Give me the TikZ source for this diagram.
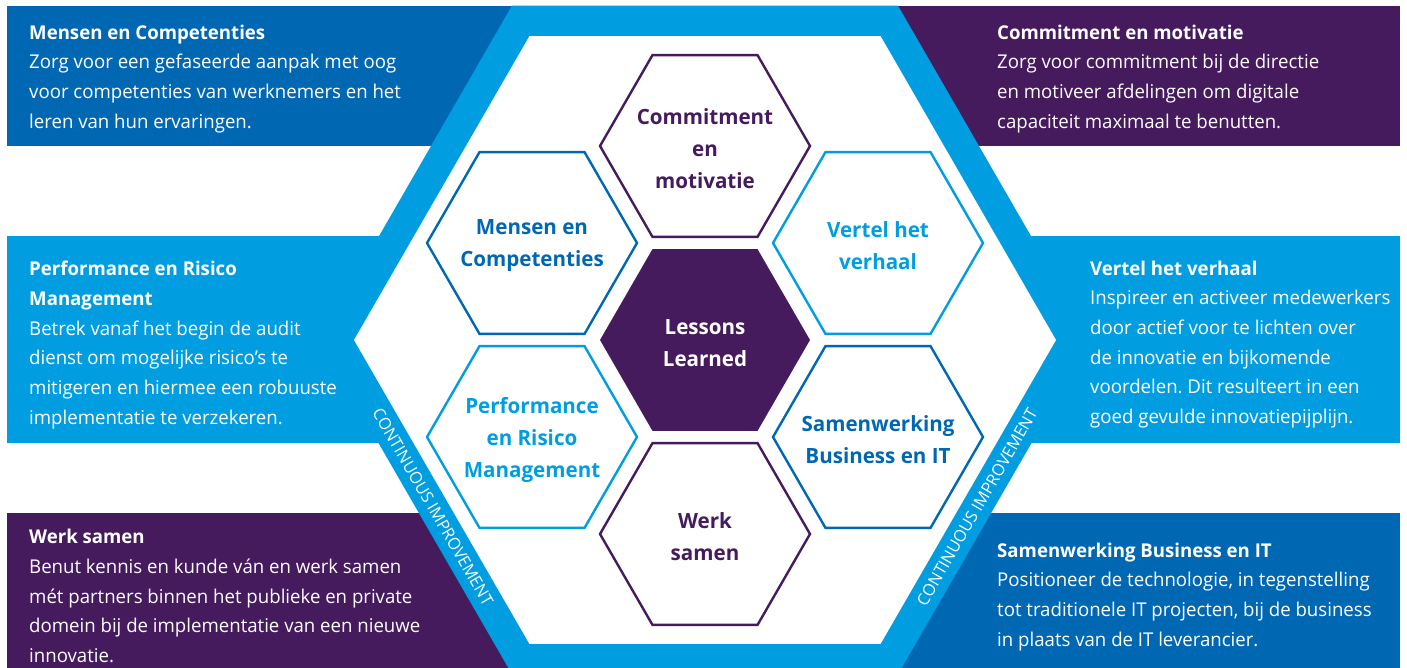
\documentclass[tikz,border=0pt]{standalone}
\usepackage{fontspec}
\setmainfont[FakeStretch=0.98]{Open Sans}
\usetikzlibrary{shapes.geometric}
\frenchspacing

\definecolor{rodblue}{RGB}{0,104,179}
\definecolor{rodlight}{RGB}{0,158,224}
\definecolor{rodpurple}{RGB}{70,27,94}

\newcommand\boxfont{\fontsize{19}{29.7}\selectfont}
\newcommand\hexfont{\fontsize{21}{32}\selectfont\bfseries}
\newcommand\cifont{\fontsize{16.5}{20}\selectfont}

\tikzset{
  hexa/.style={regular polygon, regular polygon sides=6, minimum size=210pt,
    inner sep=0pt, line width=2.4pt, fill=white},
  hexlabel/.style={align=center, inner sep=0pt, font=\hexfont, yshift=-3pt},
  bighexa/.style={regular polygon, regular polygon sides=6, inner sep=0pt},
  boxtext/.style={anchor=north west, align=left, inner sep=0pt, text=white, font=\boxfont},
  citext/.style={text=white, font=\cifont, inner sep=0pt}
}

\begin{document}
\begin{tikzpicture}[x=1pt, y=-1pt]
  \useasboundingbox (0,0) rectangle (1407,668);
  \clip (0,0) rectangle (1407,668);
  \fill[white] (0,0) rectangle (1407,668);

  % coloured bands behind the big hexagon
  \fill[rodblue] (7,6) rectangle (705,146);
  \fill[rodpurple] (705,6) rectangle (1400,146);
  \fill[rodlight] (7,236) rectangle (1400,443);
  \fill[rodpurple] (7,513) rectangle (705,668);
  \fill[rodblue] (705,513) rectangle (1400,668);

  % big hexagon
  \node[bighexa, fill=rodlight, minimum size=772pt] (outerhex) at (705,340) {};
  \node[bighexa, fill=white, minimum size=702pt] (innerhex) at (705,340) {};

  \node[citext, rotate=-60] (cileft) at (433,507) {CONTINUOUS IMPROVEMENT};
  \node[citext, rotate=60] (ciright) at (977,507) {CONTINUOUS IMPROVEMENT};

  % honeycomb
  \node[hexa, fill=rodpurple] (lessons) at (705,340) {};
  \node[hexa, draw=rodpurple] (commit) at (705,146) {};
  \node[hexa, draw=rodblue] (mensen) at (532,243) {};
  \node[hexa, draw=rodlight] (vertel) at (878,243) {};
  \node[hexa, draw=rodlight] (perf) at (532,437) {};
  \node[hexa, draw=rodblue] (samen) at (878,437) {};
  \node[hexa, draw=rodpurple] (werk) at (705,534) {};

  \node[hexlabel, text=white] (lessonslbl) at (lessons) {Lessons\\Learned};
  \node[hexlabel, text=rodpurple] (commitlbl) at (commit) {Commitment\\en\\motivatie};
  \node[hexlabel, text=rodblue] (mensenlbl) at (mensen) {Mensen en\\Competenties};
  \node[hexlabel, text=rodlight] (vertellbl) at (vertel) {Vertel het\\verhaal};
  \node[hexlabel, text=rodlight] (perflbl) at (perf) {Performance\\en Risico\\Management};
  \node[hexlabel, text=rodblue] (samenlbl) at (samen) {Samenwerking\\Business en IT};
  \node[hexlabel, text=rodpurple] (werklbl) at (werk) {Werk\\samen};

  % texts in the bands
  \node[boxtext] (mensentxt) at (29,24.5) {\textbf{Mensen en Competenties}\\
    Zorg voor een gefaseerde aanpak met oog\\
    voor competenties van werknemers en het\\
    leren van hun ervaringen.};
  \node[boxtext] (committxt) at (997,24.5) {\textbf{Commitment en motivatie}\\
    Zorg voor commitment bij de directie\\
    en motiveer afdelingen om digitale\\
    capaciteit maximaal te benutten.};
  \node[boxtext] (perftxt) at (29,261) {\textbf{Performance en Risico}\\
    \textbf{Management}\\
    Betrek vanaf het begin de audit\\
    dienst om mogelijke risico’s te\\
    mitigeren en hiermee een robuuste\\
    implementatie te verzekeren.};
  \node[boxtext] (verteltxt) at (1090,260.5) {\textbf{Vertel het verhaal}\\
    Inspireer en activeer medewerkers\\
    door actief voor te lichten over\\
    de innovatie en bijkomende\\
    voordelen. Dit resulteert in een\\
    goed gevulde innovatiepijplijn.};
  \node[boxtext] (werktxt) at (29,529) {\textbf{Werk samen}\\
    Benut kennis en kunde ván en werk samen\\
    mét partners binnen het publieke en private\\
    domein bij de implementatie van een nieuwe\\
    innovatie.};
  \node[boxtext] (samentxt) at (997,542.5) {\textbf{Samenwerking Business en IT}\\
    Positioneer de technologie, in tegenstelling\\
    tot traditionele IT projecten, bij de business\\
    in plaats van de IT leverancier.};
\end{tikzpicture}
\end{document}
